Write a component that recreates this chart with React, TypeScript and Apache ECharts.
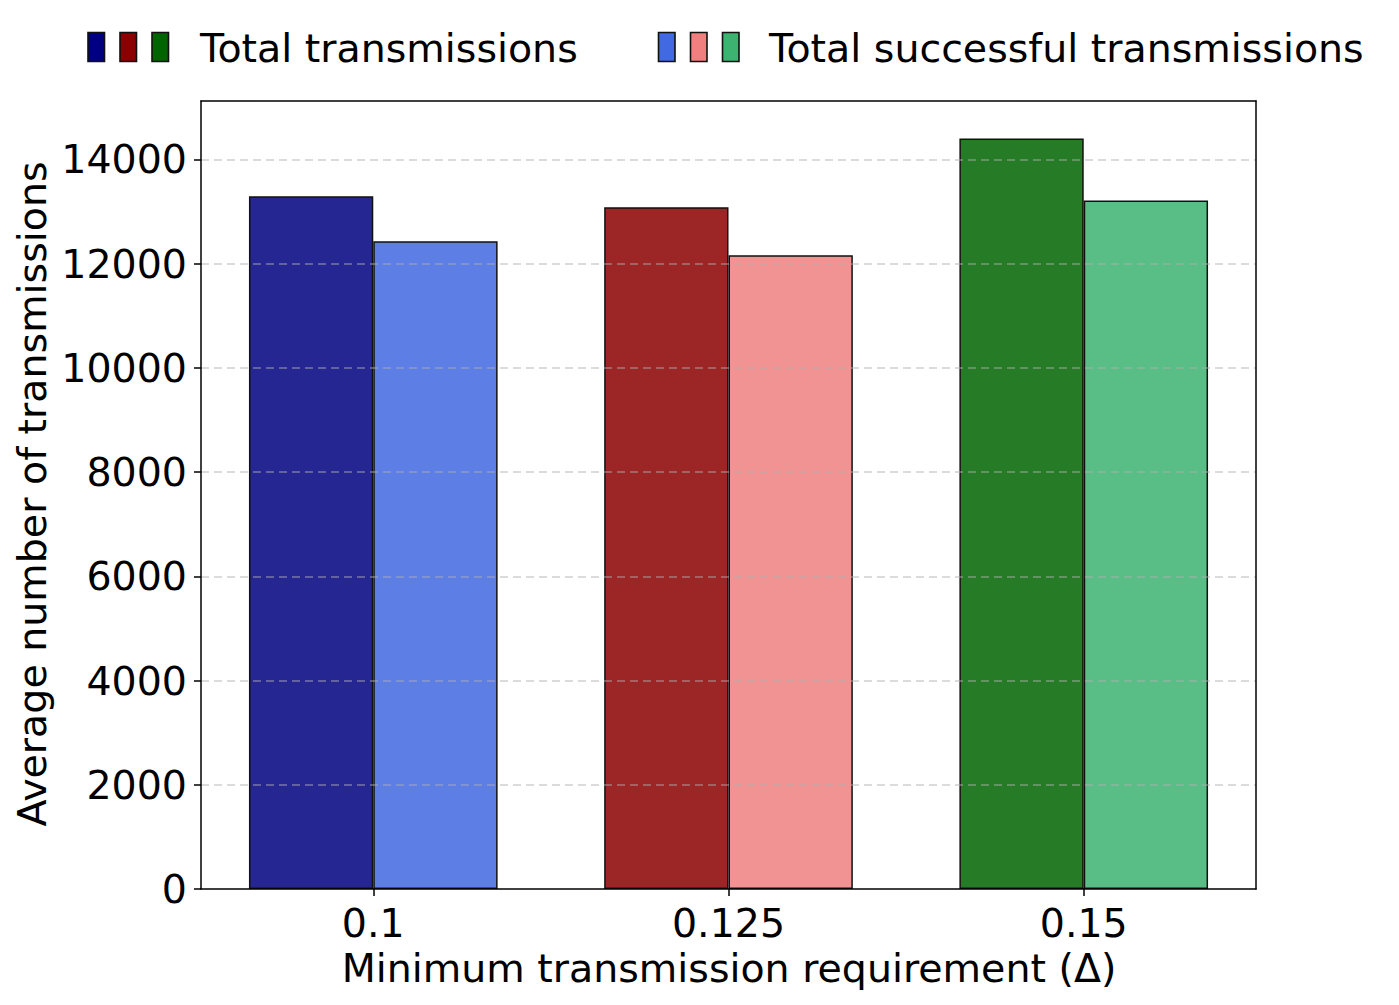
import React, { useEffect, useRef } from "react";
import * as echarts from "echarts";

const categories = ["0.1", "0.125", "0.15"];
const positions = [0, 1, 2];
const totalTransmissions = [13290, 13080, 14400];
const successfulTransmissions = [12430, 12160, 13210];
const totalColors = ["#262693", "#9c2626", "#267b26"];
const successColors = ["#5d7fe5", "#f29393", "#59be86"];
const legendTotalColors = ["#000080", "#8b0000", "#006400"];
const legendSuccessColors = ["#4169e1", "#f08080", "#3cb371"];
const yTicks = [0, 2000, 4000, 6000, 8000, 10000, 12000, 14000];
const legendLabels = ["Total transmissions", "Total successful transmissions"];
const xName = "Minimum transmission requirement (Δ)";
const yName = "Average number of transmissions";

const FONT = "DejaVu Sans";
const FS = 39.5;

export default function App() {
  const ref = useRef<HTMLDivElement>(null);
  useEffect(() => {
    if (!ref.current) return;
    const chart = echarts.init(ref.current, null, { renderer: "svg" });

    const legendGraphics: any[] = [];
    const addLegend = (startX: number, colors: string[], textX: number, label: string) => {
      colors.forEach((c, i) => {
        legendGraphics.push({
          type: "rect",
          shape: { x: startX + i * 32, y: 32.5, width: 16.5, height: 29 },
          style: { fill: c, stroke: "#111", lineWidth: 1.6 },
        });
      });
      legendGraphics.push({
        type: "text",
        x: textX,
        y: 48,
        style: {
          text: label,
          font: `${FS}px "${FONT}"`,
          fill: "#000",
          textAlign: "left",
          textVerticalAlign: "middle",
        },
      });
    };
    addLegend(88, legendTotalColors, 200, legendLabels[0]);
    addLegend(658.5, legendSuccessColors, 769, legendLabels[1]);

    const frameAxis = {
      axisLine: { show: true, onZero: false, lineStyle: { color: "#000", width: 1.5 } },
      axisTick: { show: false },
      axisLabel: { show: false },
      splitLine: { show: false },
      z: 6,
    };

    chart.setOption({
      animation: false,
      backgroundColor: "#fff",
      grid: {
        left: 201,
        right: 143,
        top: 101,
        bottom: 116,
        show: false,
      },
      xAxis: [
        {
          type: "value",
          min: -0.485,
          max: 2.485,
          z: 6,
          axisLine: { show: true, onZero: false, lineStyle: { color: "#000", width: 1.5 } },
          splitLine: { show: false },
          axisTick: {
            show: true,
            customValues: positions,
            length: 7,
            lineStyle: { color: "#000", width: 1.5 },
          },
          axisLabel: {
            customValues: positions,
            formatter: (v: number) => categories[Math.round(v)] ?? "",
            fontFamily: FONT,
            fontSize: FS,
            color: "#000",
            margin: 14,
          },
        },
        { type: "value", position: "top", min: -0.485, max: 2.485, ...frameAxis },
      ],
      yAxis: [
        {
          type: "value",
          min: 0,
          max: 15120,
          interval: 2000,
          z: 5,
          axisLine: { show: true, onZero: false, lineStyle: { color: "#000", width: 1.5 } },
          axisTick: {
            show: true,
            customValues: yTicks,
            length: 7,
            lineStyle: { color: "#000", width: 1.5 },
          },
          axisLabel: {
            customValues: yTicks,
            formatter: (v: number) => String(v),
            fontFamily: FONT,
            fontSize: FS,
            color: "#000",
            margin: 14,
          },
          splitLine: {
            show: true,
            showMinLine: false,
            showMaxLine: true,
            lineStyle: { color: "rgba(176,176,176,0.6)", type: [8, 5], width: 1.5 },
          },
        },
        { type: "value", position: "right", min: 0, max: 15120, ...frameAxis },
      ],
      series: [
        {
          type: "bar",
          name: legendLabels[0],
          barWidth: "35%",
          barGap: "0%",
          xAxisIndex: 0,
          yAxisIndex: 0,
          data: positions.map((p, i) => ({
            value: [p, totalTransmissions[i]],
            itemStyle: { color: totalColors[i], borderColor: "#111", borderWidth: 1.5 },
          })),
        },
        {
          type: "bar",
          name: legendLabels[1],
          barWidth: "35%",
          barGap: "0%",
          xAxisIndex: 0,
          yAxisIndex: 0,
          data: positions.map((p, i) => ({
            value: [p, successfulTransmissions[i]],
            itemStyle: { color: successColors[i], borderColor: "#111", borderWidth: 1.5 },
          })),
        },
      ],
      graphic: [
        ...legendGraphics,
        {
          type: "text",
          x: 31.5,
          y: 494,
          rotation: Math.PI / 2,
          style: {
            text: yName,
            font: `${FS}px "${FONT}"`,
            fill: "#000",
            textAlign: "center",
            textVerticalAlign: "middle",
          },
        },
        {
          type: "text",
          x: 729,
          y: 968,
          style: {
            text: xName,
            font: `${FS}px "${FONT}"`,
            fill: "#000",
            textAlign: "center",
            textVerticalAlign: "middle",
          },
        },
      ],
    });
    return () => chart.dispose();
  }, []);

  return (
    <div
      ref={ref}
      style={{ position: "absolute", left: 0, top: 0, width: 1399, height: 1005 }}
    />
  );
}
